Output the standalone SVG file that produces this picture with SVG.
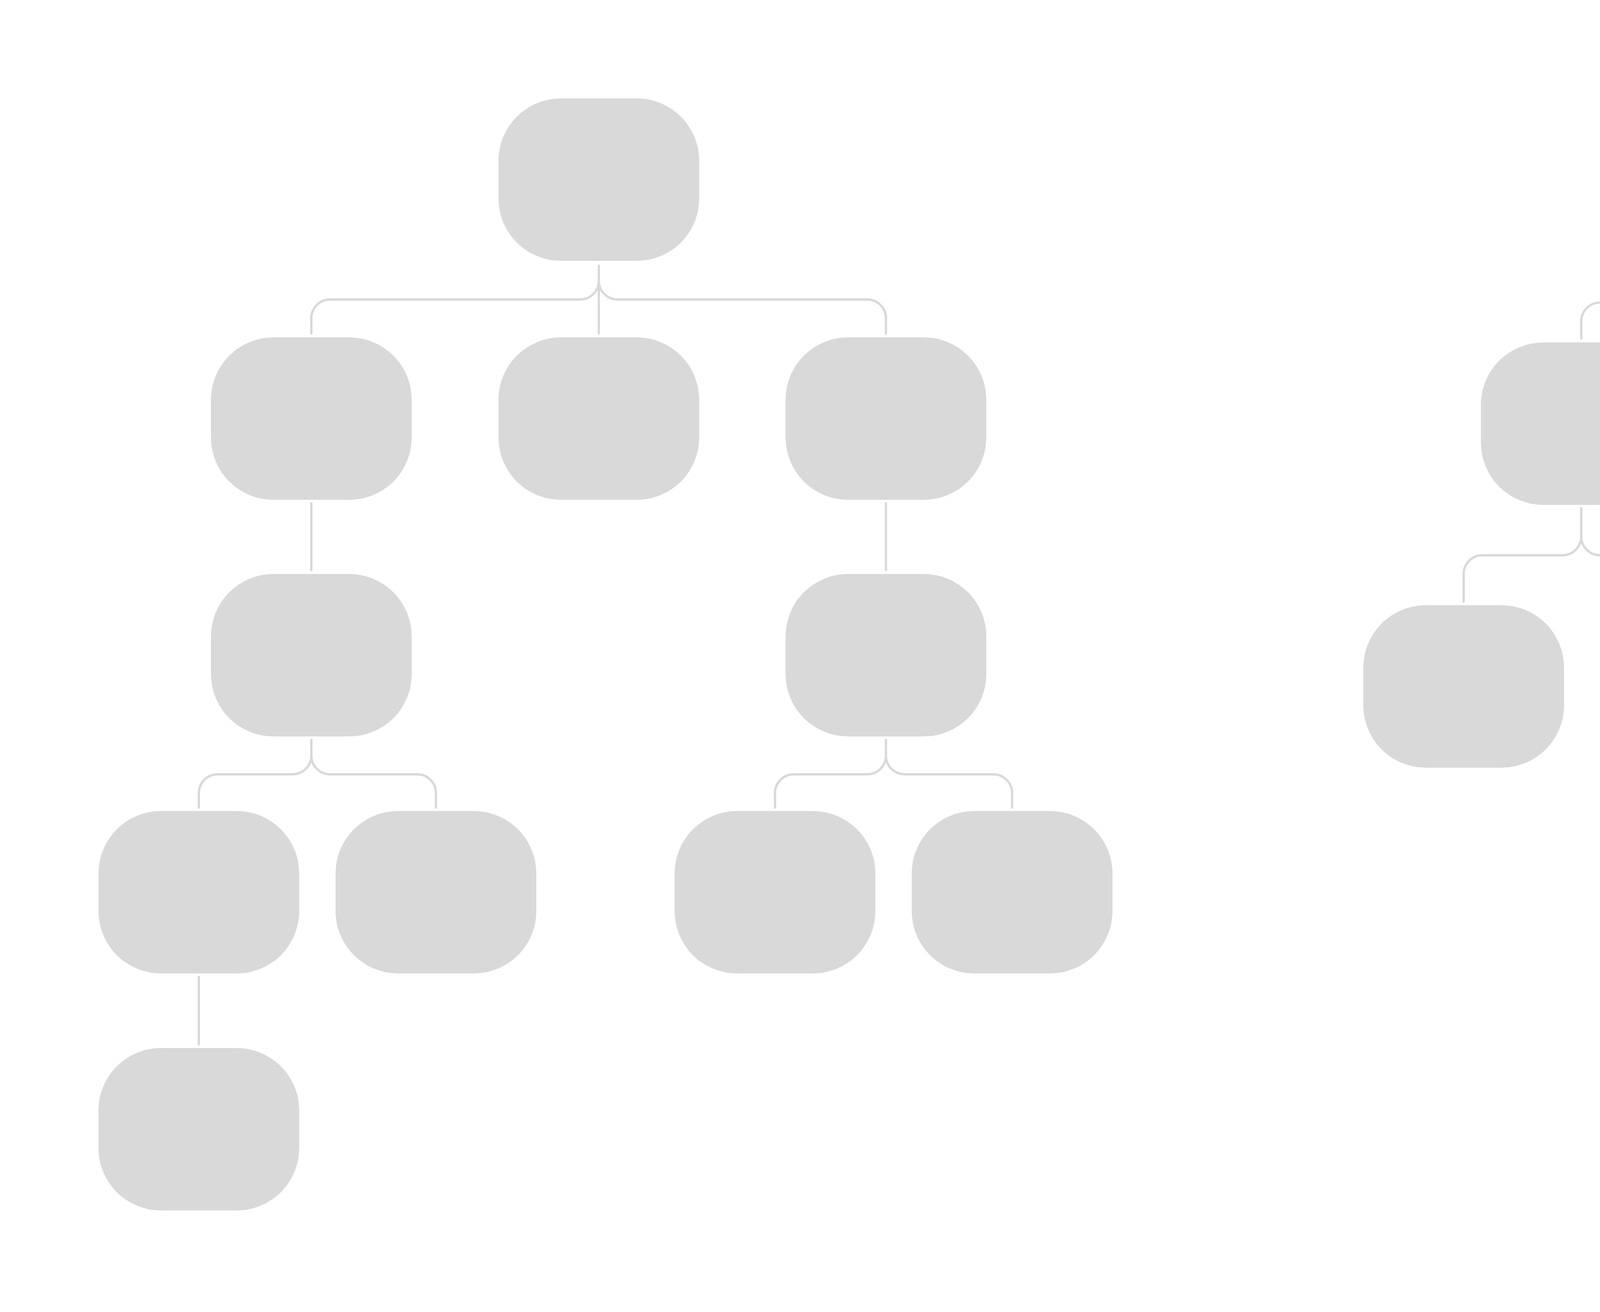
<svg xmlns="http://www.w3.org/2000/svg" width="6944" height="3360" viewBox="0 0 6944 3360">
<style>
.n{fill:#d9d9d9}
.c{fill:none;stroke:#d9d9d9;stroke-width:6;stroke-linecap:round}
</style>
<defs><rect id="box" class="n" width="514" height="416" rx="160" ry="160"/></defs>
<rect width="6944" height="3360" fill="#fff"/>
<g id="nodes">
<use id="L0" href="#box" x="1276" y="252"/>
<use id="L1a" href="#box" x="540" y="864"/>
<use id="L1b" href="#box" x="1276" y="864"/>
<use id="L1c" href="#box" x="2011" y="864"/>
<use id="L2a" href="#box" x="540" y="1470"/>
<use id="L2b" href="#box" x="2011" y="1470"/>
<use id="L3a" href="#box" x="252" y="2077"/>
<use id="L3b" href="#box" x="859" y="2077"/>
<use id="L3c" href="#box" x="1727" y="2077"/>
<use id="L3d" href="#box" x="2334" y="2077"/>
<use id="L4a" href="#box" x="252" y="2684"/>
<use id="R0" href="#box" x="4796" y="252"/>
<use id="R1a" href="#box" x="3791" y="877"/>
<use id="R1b" href="#box" x="4460" y="877"/>
<use id="R1c" href="#box" x="5128" y="877"/>
<use id="R1d" href="#box" x="5868" y="877"/>
<use id="R2a" href="#box" x="3490" y="1550"/>
<use id="R2b" href="#box" x="4096" y="1550"/>
<use id="R2c" href="#box" x="5567" y="1506"/>
<use id="R2d" href="#box" x="6173" y="1506"/>
</g>
<g id="connectors">
<path class="c" d="M1533 681V719A48 48 0 0 1 1485 767H845A48 48 0 0 0 797 815V854"/>
<path class="c" d="M1533 681V854"/>
<path class="c" d="M1533 681V719A48 48 0 0 0 1581 767H2220A48 48 0 0 1 2268 815V854"/>
<path class="c" d="M797 1289V1460"/>
<path class="c" d="M2268 1289V1460"/>
<path class="c" d="M797 1895V1935A48 48 0 0 1 749 1983H557A48 48 0 0 0 509 2031V2068"/>
<path class="c" d="M797 1895V1935A48 48 0 0 0 845 1983H1068A48 48 0 0 1 1116 2031V2068"/>
<path class="c" d="M2268 1895V1935A48 48 0 0 1 2220 1983H2032A48 48 0 0 0 1984 2031V2068"/>
<path class="c" d="M2268 1895V1935A48 48 0 0 0 2316 1983H2543A48 48 0 0 1 2591 2031V2068"/>
<path class="c" d="M509 2502V2675"/>
<path class="c" d="M5053 681V727A48 48 0 0 1 5005 775H4096A48 48 0 0 0 4048 823V867"/>
<path class="c" d="M5053 681V727A48 48 0 0 1 5005 775H4765A48 48 0 0 0 4717 823V867"/>
<path class="c" d="M5053 681V727A48 48 0 0 0 5101 775H5337A48 48 0 0 1 5385 823V867"/>
<path class="c" d="M5053 681V727A48 48 0 0 0 5101 775H6077A48 48 0 0 1 6125 823V867"/>
<path class="c" d="M4048 1302V1374A48 48 0 0 1 4000 1422H3795A48 48 0 0 0 3747 1470V1541"/>
<path class="c" d="M4048 1302V1374A48 48 0 0 0 4096 1422H4305A48 48 0 0 1 4353 1470V1541"/>
<path class="c" d="M6125 1302V1352A48 48 0 0 1 6077 1400H5872A48 48 0 0 0 5824 1448V1497"/>
<path class="c" d="M6125 1302V1352A48 48 0 0 0 6173 1400H6382A48 48 0 0 1 6430 1448V1497"/>
</g>
</svg>
